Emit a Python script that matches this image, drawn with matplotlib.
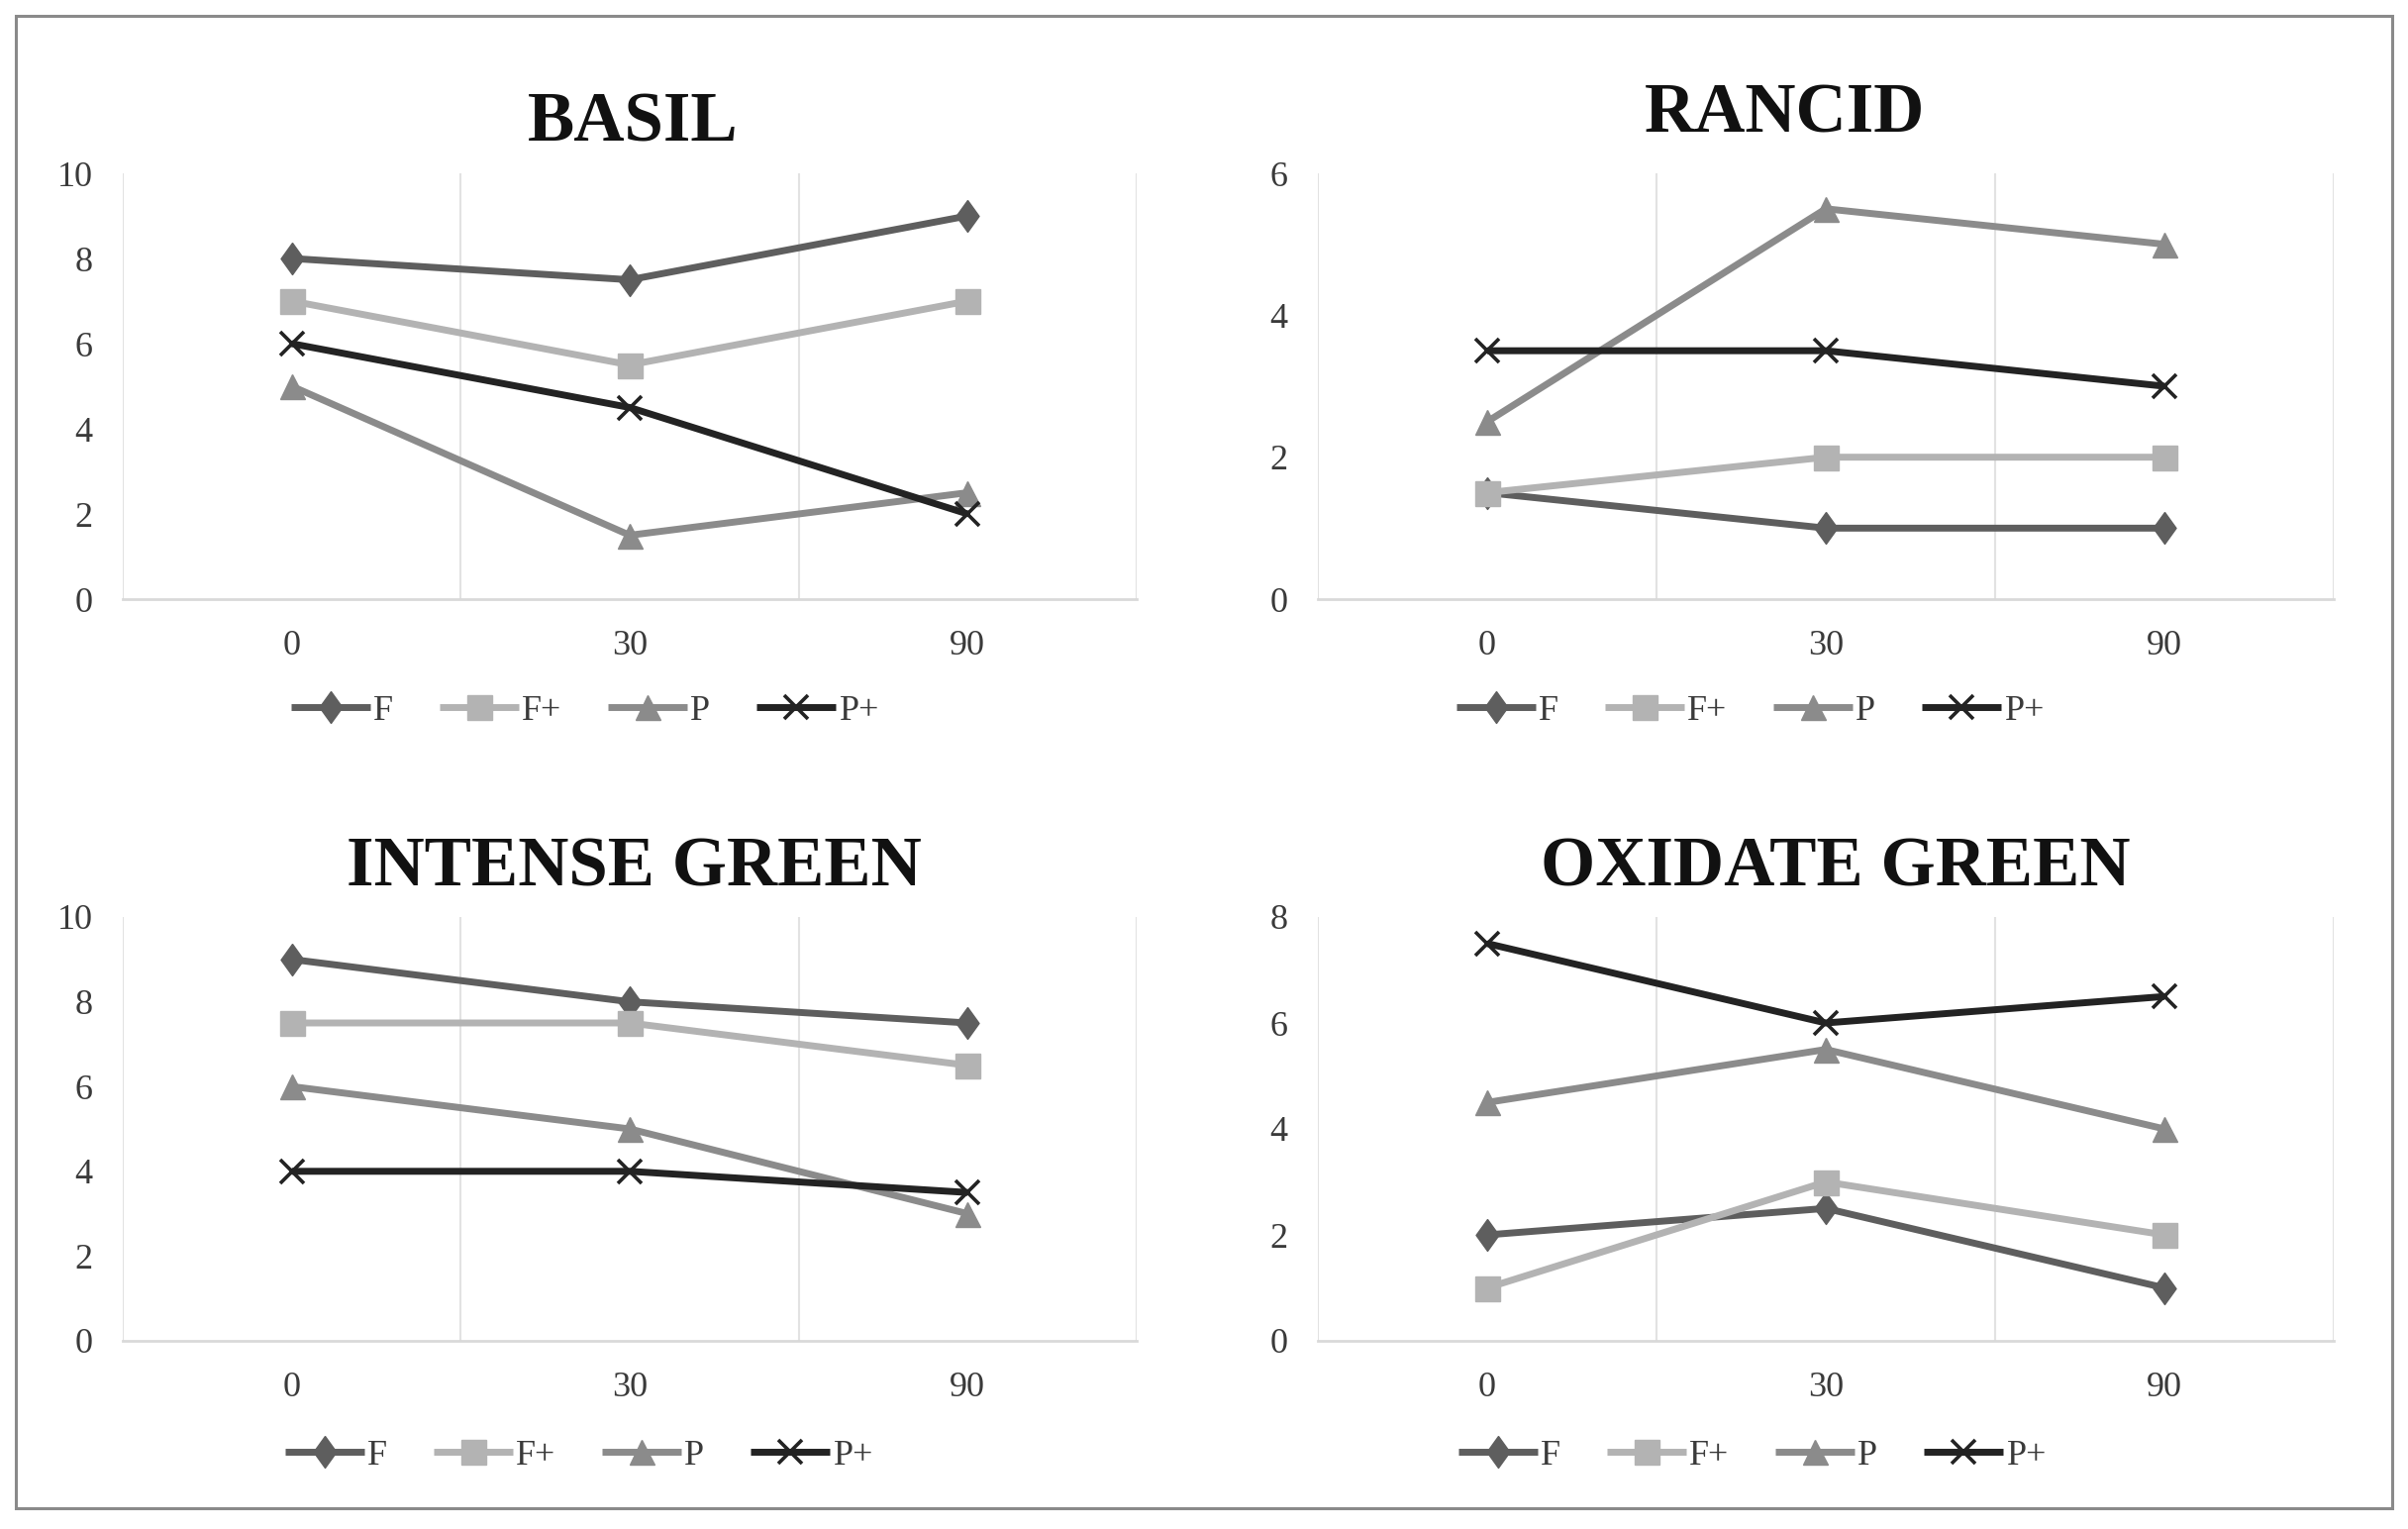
import matplotlib
matplotlib.use('Agg')
import matplotlib.pyplot as plt
from matplotlib.patches import Rectangle

plt.rcParams['font.family'] = ['Liberation Serif', 'DejaVu Serif']

days = ['0', '30', '90']
series_names = ['F', 'F+', 'P', 'P+']

basil_f = [8, 7.5, 9]
basil_fp = [7, 5.5, 7]
basil_p = [5, 1.5, 2.5]
basil_pp = [6, 4.5, 2]

rancid_f = [1.5, 1, 1]
rancid_fp = [1.5, 2, 2]
rancid_p = [2.5, 5.5, 5]
rancid_pp = [3.5, 3.5, 3]

intense_f = [9, 8, 7.5]
intense_fp = [7.5, 7.5, 6.5]
intense_p = [6, 5, 3]
intense_pp = [4, 4, 3.5]

oxidate_f = [2, 2.5, 1]
oxidate_fp = [1, 3, 2]
oxidate_p = [4.5, 5.5, 4]
oxidate_pp = [7.5, 6, 6.5]

colors = ['#5e5e5e', '#b3b3b3', '#8b8b8b', '#232323']
diamond = [(0, 1), (0.72, 0), (0, -1), (-0.72, 0), (0, 1)]
markers = [diamond, 's', '^', 'x']
msizes = [23, 18, 18, 17]

fig = plt.figure(figsize=(24.32, 15.44), dpi=100)
W, H = 2432, 1544

# outer frame
fig.patches.append(Rectangle((16 / W, 1 - 1523 / H), 2400 / W, 1507 / H,
                             transform=fig.transFigure, fill=False,
                             edgecolor='#8a8a8a', linewidth=2.2))


def make_panel(box, title, tpos, lpos, data, ymax):
    left, top, right, bottom = box
    ax = fig.add_axes([left / W, 1 - bottom / H, (right - left) / W, (bottom - top) / H])
    x = list(range(len(days)))
    handles = []
    for i, vals in enumerate(data):
        mew = 2.6 if markers[i] == 'x' else 1
        h, = ax.plot(x, vals, color=colors[i], lw=5, marker=markers[i],
                     ms=msizes[i], mew=mew, mec=colors[i], mfc=colors[i],
                     solid_joinstyle='round', solid_capstyle='butt', zorder=3 + i)
        handles.append(h)
    ax.set_xlim(-0.5, len(days) - 0.5)
    ax.set_ylim(0, ymax)
    ax.set_yticks(range(0, ymax + 1, 2))
    ax.set_xticks(x)
    ax.set_xticklabels(days)
    for gx in [-0.5, 0.5, 1.5, 2.5]:
        ax.axvline(gx, color='#e2e2e2', lw=1.5, zorder=1)
    for s in ['top', 'right', 'left']:
        ax.spines[s].set_visible(False)
    ax.spines['bottom'].set_color('#d9d9d9')
    ax.spines['bottom'].set_linewidth(2)
    ax.tick_params(axis='both', length=0, labelsize=26, labelcolor='#3a3a3a')
    ax.tick_params(axis='y', pad=22)
    ax.tick_params(axis='x', pad=22)
    fig.text(tpos[0] / W, 1 - tpos[1] / H, title, ha='center', va='center',
             fontsize=51, fontweight='bold', color='#111111')
    fig.legend(handles, series_names, loc='center',
               bbox_to_anchor=(lpos[0] / W, 1 - lpos[1] / H), ncol=4,
               frameon=False, fontsize=26, handlelength=2.2, handletextpad=0.1,
               columnspacing=1.3, labelcolor='#3a3a3a')
    return ax


make_panel((124, 175, 1148, 605), 'BASIL', (639, 125), (591, 718),
           [basil_f, basil_fp, basil_p, basil_pp], 10)
make_panel((1331, 175, 2357, 605), 'RANCID', (1803, 116), (1768, 718),
           [rancid_f, rancid_fp, rancid_p, rancid_pp], 6)
make_panel((124, 926, 1148, 1354), 'INTENSE GREEN', (640, 877), (585, 1470),
           [intense_f, intense_fp, intense_p, intense_pp], 10)
make_panel((1331, 926, 2357, 1354), 'OXIDATE GREEN', (1854, 877), (1770, 1470),
           [oxidate_f, oxidate_fp, oxidate_p, oxidate_pp], 8)

fig.savefig('out.png', dpi=100, facecolor='white')
